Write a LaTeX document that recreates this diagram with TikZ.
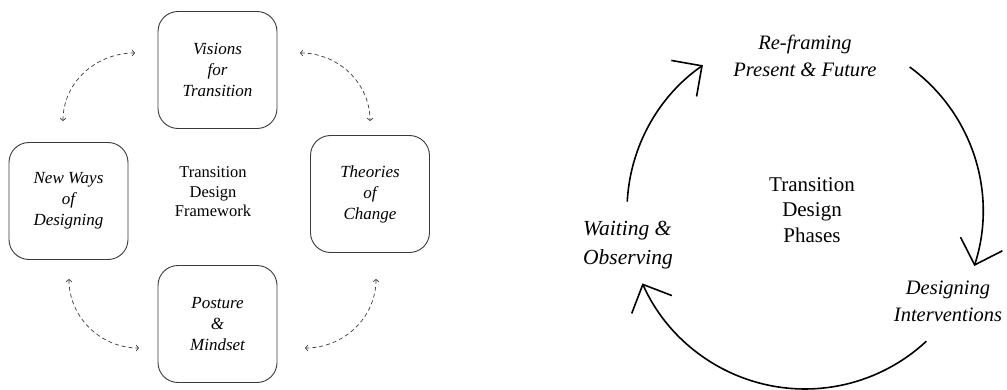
\documentclass[tikz,border=0pt]{standalone}
\usepackage{fontspec}
\setmainfont{Liberation Serif}
\usetikzlibrary{arrows.meta}
\definecolor{frameGray}{HTML}{3A3A3A}
\tikzset{
  stage/.style={draw=frameGray, line width=0.9pt, rounded corners=20pt,
    minimum width=119pt, minimum height=117pt, align=center,
    font=\fontsize{17}{21}\selectfont\itshape},
  link/.style={{Straight Barb[length=2.5pt,width=6pt]}-{Straight Barb[length=2.5pt,width=6pt]},
    dash pattern=on 4pt off 3pt, line width=0.7pt, frameGray},
  hub/.style={align=center, font=\fontsize{16.5}{19.5}\selectfont},
  bighub/.style={align=center, font=\fontsize{21}{25.5}\selectfont},
  phase/.style={align=center, font=\fontsize{20.5}{27}\selectfont\itshape},
  phasearc/.style={-{Straight Barb[length=22pt,width=44pt]}, line width=1.6pt},
}
\begin{document}
\begin{tikzpicture}[x=1pt, y=1pt]
  \useasboundingbox (0,0) rectangle (1007,389);
  % framework
  \node[stage] (vis) at (217.5,319) {Visions\\for\\Transition};
  \node[stage] (new) at (68.5,188) {New Ways\\of\\Designing};
  \node[stage] (thc) at (370,195) {Theories\\of\\Change};
  \node[stage] (pos) at (217.5,65) {Posture\\\&\\Mindset};
  \node[hub] (tdf) at (213,197) {Transition\\Design\\Framework};
  \coordinate (nv1) at (63,268);  \coordinate (nv2) at (135,336);
  \coordinate (vt1) at (300,336); \coordinate (vt2) at (370,268);
  \coordinate (np1) at (69,110);  \coordinate (np2) at (139,41);
  \coordinate (tp1) at (376,110); \coordinate (tp2) at (305,41);
  \draw[link] (nv1) to[out=90, in=180] (nv2);
  \draw[link] (vt1) to[out=0, in=90] (vt2);
  \draw[link] (np1) to[out=-90, in=180] (np2);
  \draw[link] (tp1) to[out=-90, in=0] (tp2);
  % phases
  \coordinate (mid) at (805,178);
  \node[bighub] (tdp) at (812,179) {Transition\\Design\\Phases};
  \node[phase] (ref) at (805,333) {Re-framing\\Present \& Future};
  \node[phase, align=left, font=\fontsize{21.5}{29}\selectfont\itshape] (wai) at (628,144) {Waiting \&\\Observing};
  \node[phase] (des) at (948,88) {Designing\\Interventions};
  \draw[phasearc] ([shift={(54:178)}]mid) arc[start angle=54, end angle=-18, radius=178];
  \draw[phasearc] ([shift={(-47:178)}]mid) arc[start angle=-47, end angle=-156, radius=178];
  \draw[phasearc] ([shift={(177:178)}]mid) arc[start angle=177, end angle=125, radius=178];
\end{tikzpicture}
\end{document}
